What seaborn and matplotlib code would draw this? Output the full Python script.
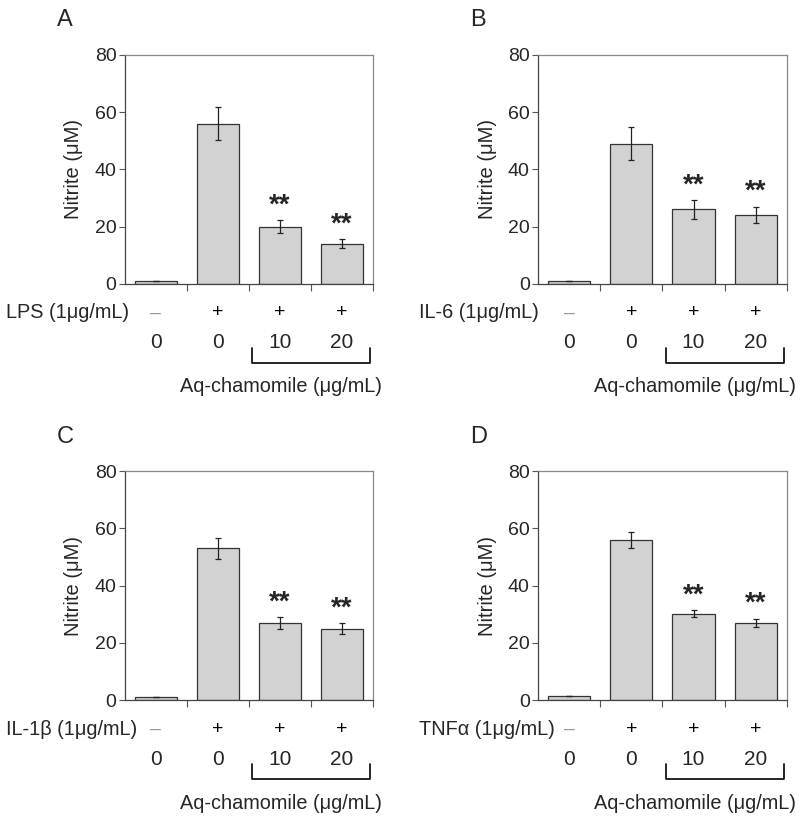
import numpy as np
import pandas as pd
import matplotlib
matplotlib.use('Agg')
import matplotlib.pyplot as plt
import matplotlib.transforms as mtransforms
import seaborn as sns

# Values (Nitrite, uM)
groups = ['ctrl', 'stim', 'cham10', 'cham20']
stim_signs = ['\u2013', '+', '+', '+']
doses = ['0', '0', '10', '20']
panel_letters = ['A', 'B', 'C', 'D']
stimuli = ['LPS (1\u03bcg/mL)', 'IL-6 (1\u03bcg/mL)', 'IL-1\u03b2 (1\u03bcg/mL)', 'TNF\u03b1 (1\u03bcg/mL)']

nitrite_lps = [1.0, 56.0, 20.0, 14.0]
err_lps = [0.0, 5.8, 2.2, 1.5]
nitrite_il6 = [1.0, 49.0, 26.0, 24.0]
err_il6 = [0.0, 5.8, 3.3, 2.9]
nitrite_il1b = [1.0, 53.0, 27.0, 25.0]
err_il1b = [0.0, 3.8, 2.0, 1.9]
nitrite_tnfa = [1.3, 56.0, 30.2, 27.0]
err_tnfa = [0.0, 2.9, 1.3, 1.5]
signif = ['', '', '**', '**']

all_values = [nitrite_lps, nitrite_il6, nitrite_il1b, nitrite_tnfa]
all_errs = [err_lps, err_il6, err_il1b, err_tnfa]

sns.set_theme(style='ticks')
plt.rcParams['font.family'] = ['Liberation Sans', 'DejaVu Sans']

fig = plt.figure(figsize=(8, 8.18), dpi=100)
positions = [
    [0.156, 0.653, 0.310, 0.280],
    [0.6725, 0.653, 0.311, 0.280],
    [0.156, 0.144, 0.310, 0.280],
    [0.6725, 0.144, 0.311, 0.280],
]

for i in range(4):
    ax = fig.add_axes(positions[i])
    df = pd.DataFrame({'group': groups, 'nitrite': all_values[i]})
    sns.barplot(data=df, x='group', y='nitrite', ax=ax, color='#d2d2d2',
                edgecolor='#333333', linewidth=0.9, width=0.68, saturation=1)
    ax.errorbar(range(4), all_values[i], yerr=all_errs[i], fmt='none',
                ecolor='#222222', elinewidth=0.9, capsize=2.5, capthick=0.9)
    for j in range(4):
        if signif[j]:
            ax.text(j, all_values[i][j] + all_errs[i][j] + 0.6, signif[j],
                    ha='center', va='bottom', fontsize=20, fontweight='bold')

    ax.set_ylim(0, 80)
    ax.set_xlim(-0.5, 3.5)
    ax.set_yticks([0, 20, 40, 60, 80])
    ax.tick_params(axis='y', labelsize=14, length=4, width=0.8, color='#555555', pad=2)
    for lbl in ax.get_yticklabels():
        lbl.set_family(['Liberation Sans Narrow', 'Liberation Sans'])
    ax.set_xticks([0.5, 1.5, 2.5, 3.5], minor=False)
    ax.set_xticklabels([])
    ax.tick_params(axis='x', length=5, width=0.8, color='#555555')
    ax.set_xlabel('')
    ax.set_ylabel('Nitrite (\u03bcM)', fontsize=14.5, labelpad=8)
    for side in ['top', 'right']:
        ax.spines[side].set_visible(True)
        ax.spines[side].set_color('#888888')
        ax.spines[side].set_linewidth(0.9)
    for side in ['left', 'bottom']:
        ax.spines[side].set_color('#444444')
        ax.spines[side].set_linewidth(0.9)

    trans = mtransforms.blended_transform_factory(ax.transData, ax.transAxes)
    for j in range(4):
        ax.text(j, -0.127, stim_signs[j], transform=trans, ha='center', va='center',
                fontsize=14, color='#999999' if j == 0 else 'black')
        ax.text(j, -0.258, doses[j], transform=trans, ha='center', va='center', fontsize=15)
    ax.text(-0.48, -0.127, stimuli[i], transform=ax.transAxes, ha='left', va='center',
            fontsize=14.3)
    ax.plot([1.55, 1.55, 3.45, 3.45], [-0.28, -0.345, -0.345, -0.28], transform=trans,
            color='black', linewidth=1.2, clip_on=False)
    ax.text(2.02, -0.45, 'Aq-chamomile (\u03bcg/mL)', transform=trans, ha='center',
            va='center', fontsize=14.3)
    ax.text(-0.24, 1.15, panel_letters[i], transform=ax.transAxes, ha='center',
            va='center', fontsize=17)

fig.savefig('out.png', dpi=100)
